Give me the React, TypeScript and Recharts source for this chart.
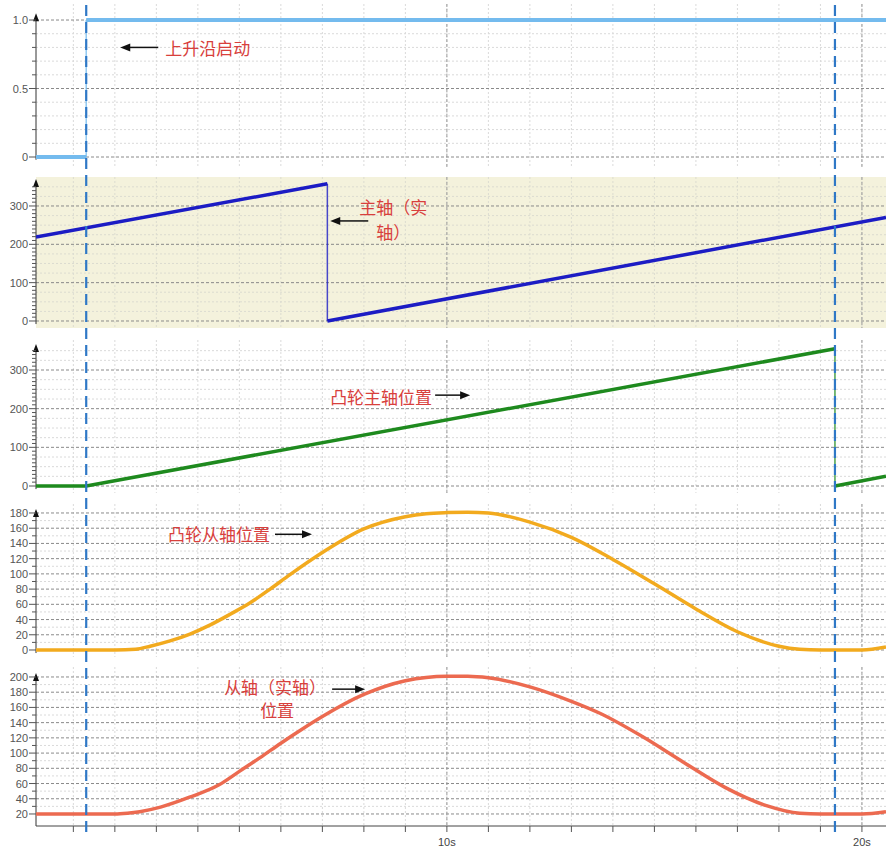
import React from 'react';
import { LineChart, Line, XAxis, YAxis, ReferenceLine, ReferenceDot, CartesianGrid } from 'recharts';

// time axis (seconds)
const T_MIN = 0.1;
const T_MAX = 20.58;
const SECONDS = [1, 2, 3, 4, 5, 6, 7, 8, 9, 10, 11, 12, 13, 14, 15, 16, 17, 18, 19, 20];
const X_LABELS = [10, 20];
const MARKERS = [1.31, 19.35];

// traces: times + values
const startT = [0.1, 1.31, 1.31, 20.58];
const startV = [0, 0, 1, 1];

const masterT = [0.1, 7.12, 7.12, 20.58];
const masterV = [219, 358, 0, 270];

const camMasterT = [0.1, 1.31, 19.35, 19.35, 20.58];
const camMasterV = [0, 0, 355, 0, 25];

const camSlaveT = [0.1, 1, 2, 2.5, 2.85, 3.33, 3.81, 4.3, 4.78, 5.26, 5.74, 6.22, 7, 8, 9, 9.5, 10, 10.5, 11, 12, 13, 14, 15, 16, 17, 18, 18.5, 19, 20, 20.58];
const camSlaveV = [0, 0, 0, 1, 5, 12, 21, 33, 47, 62, 80, 99, 128, 159, 175, 179, 180.5, 181, 180, 168, 148, 119, 87, 54, 24, 5, 1, 0, 0, 4];

const slaveT = [0.1, 1, 2, 2.3, 2.6, 3.1, 3.8, 4.5, 5, 5.5, 6, 6.5, 7, 8, 9, 10, 10.5, 11, 12, 13, 13.7, 14.7, 15.7, 16.7, 17.7, 18.5, 19, 20, 20.58];
const slaveV = [20, 20, 20, 21, 23, 29, 42, 58, 76, 94, 113, 131, 148, 177, 195, 201, 201, 199, 187, 168, 152, 122, 88, 55, 31, 21, 20, 20, 23];

// y ticks
const p1Major = [0, 0.5, 1];
const p1Minor = [0.1, 0.2, 0.3, 0.4, 0.6, 0.7, 0.8, 0.9];
const p23Major = [0, 100, 200, 300];
const p4Major = [0, 20, 40, 60, 80, 100, 120, 140, 160, 180];
const p5Major = [20, 40, 60, 80, 100, 120, 140, 160, 180, 200];

const range = (a: number, b: number, step: number) => {
  const out: number[] = [];
  for (let v = a; v <= b + 1e-9; v += step) out.push(Math.round(v * 1000) / 1000);
  return out;
};
const without = (arr: number[], ex: number[]) => arr.filter((v) => !ex.includes(v));

const RED = '#d8403c';
const CJK = "'Noto Sans CJK SC', sans-serif";
const AXIS_FONT = "'Liberation Sans', Arial, sans-serif";

type NoteLine = { text: string; dx: number; dy: number; anchor: 'start' | 'middle' | 'end' };
type Note = { t: number; v: number; dir: 'left' | 'right'; tail: number; lines: NoteLine[] };

type Panel = {
  top: number;
  height: number;
  domain: [number, number];
  t: number[];
  v: number[];
  color: string;
  width: number;
  curve: 'linear' | 'monotone';
  majors: number[];
  minorTicks: number[];
  minorGrid: number[];
  fmt: (n: number) => string;
  axisTop: number;
  axisBottom: number;
  bg?: string;
  notes: Note[];
  xAxis?: boolean;
};

const panels: Panel[] = [
  {
    top: 4, height: 163, domain: [-0.073, 1.117], t: startT, v: startV, color: '#74bbee', width: 4, curve: 'linear',
    majors: p1Major, minorTicks: p1Minor, minorGrid: p1Minor, fmt: (n) => (n === 0 ? '0' : n.toFixed(1)),
    axisTop: 1.02, axisBottom: -0.02,
    notes: [{ t: 2.13, v: 0.8, dir: 'left', tail: 38, lines: [{ text: '上升沿启动', dx: 45, dy: 0, anchor: 'start' }] }],
  },
  {
    top: 177, height: 151, domain: [-18.3, 375.6], t: masterT, v: masterV, color: '#1c1cc4', width: 3.5, curve: 'linear',
    majors: p23Major, minorTicks: without(range(0, 350, 10), p23Major), minorGrid: without(range(25, 350, 25), p23Major),
    fmt: (n) => String(n), axisTop: 360, axisBottom: -8, bg: '#f4f2dc',
    notes: [{ t: 7.19, v: 261, dir: 'left', tail: 38, lines: [
      { text: '主轴（实', dx: 63, dy: -14, anchor: 'middle' },
      { text: '轴）', dx: 63, dy: 11, anchor: 'middle' },
    ] }],
  },
  {
    top: 340, height: 153, domain: [-18.1, 377.6], t: camMasterT, v: camMasterV, color: '#1e8a1e', width: 3.5, curve: 'linear',
    majors: p23Major, minorTicks: without(range(0, 350, 10), p23Major), minorGrid: without(range(25, 350, 25), p23Major),
    fmt: (n) => String(n), axisTop: 357, axisBottom: -8,
    notes: [{ t: 10.56, v: 235, dir: 'right', tail: 35, lines: [{ text: '凸轮主轴位置', dx: -38, dy: 1, anchor: 'end' }] }],
  },
  {
    top: 504, height: 153, domain: [-9.2, 191.8], t: camSlaveT, v: camSlaveV, color: '#f2aa1e', width: 3.5, curve: 'monotone',
    majors: p4Major, minorTicks: range(10, 170, 20), minorGrid: range(10, 170, 20),
    fmt: (n) => String(n), axisTop: 180, axisBottom: -4,
    notes: [{ t: 6.75, v: 152, dir: 'right', tail: 37, lines: [{ text: '凸轮从轴位置', dx: -42, dy: -1, anchor: 'end' }] }],
  },
  {
    top: 667, height: 183, domain: [4.2, 213.1], t: slaveT, v: slaveV, color: '#ec6a50', width: 3.5, curve: 'monotone',
    majors: p5Major, minorTicks: range(30, 190, 20), minorGrid: range(30, 190, 20),
    fmt: (n) => String(n), axisTop: 200, axisBottom: 4.2, xAxis: true,
    notes: [{ t: 8.03, v: 184, dir: 'right', tail: 33, lines: [
      { text: '从轴（实轴）', dx: -90, dy: -3, anchor: 'middle' },
      { text: '位置', dx: -88, dy: 20, anchor: 'middle' },
    ] }],
  },
];

function buildSegments(t: number[], v: number[]) {
  const main: { t: number; v: number | null }[] = [];
  const drops: { t: number; v: number }[][] = [];
  t.forEach((ti, i) => {
    if (i > 0 && ti === t[i - 1]) {
      main.push({ t: ti, v: null });
      drops.push([{ t: t[i - 1], v: v[i - 1] }, { t: ti, v: v[i] }]);
    }
    main.push({ t: ti, v: v[i] });
  });
  return { main, drops };
}

function YTick(props: any) {
  const { x, y, payload, majors, fmt } = props;
  const major = majors.includes(payload.value);
  return (
    <g>
      <line x1={x - (major ? 7 : 4)} x2={x} y1={y} y2={y} stroke="#555" />
      {major && (
        <text x={x - 8} y={y} textAnchor="end" dominantBaseline="central" fontSize={11} fill="#555" fontFamily={AXIS_FONT}>
          {fmt(payload.value)}
        </text>
      )}
    </g>
  );
}

function XTick(props: any) {
  const { x, y, payload } = props;
  const lab = X_LABELS.includes(payload.value);
  return (
    <g>
      <line x1={x} x2={x} y1={y} y2={y + 6} stroke="#555" />
      {lab && (
        <text x={x} y={y + 20} textAnchor="middle" fontSize={11} fill="#444" fontFamily={AXIS_FONT}>
          {payload.value}s
        </text>
      )}
    </g>
  );
}

function NoteShape(props: any, note: Note) {
  const { cx, cy } = props;
  const s = note.dir === 'left' ? 1 : -1;
  return (
    <g>
      <line x1={cx + s * note.tail} x2={cx + s * 8} y1={cy} y2={cy} stroke="#111" strokeWidth={1.5} />
      <path d={`M${cx},${cy} L${cx + s * 10},${cy - 4} L${cx + s * 10},${cy + 4} Z`} fill="#111" />
      {note.lines.map((ln, i) => (
        <text key={i} x={cx + ln.dx} y={cy + ln.dy} textAnchor={ln.anchor} dominantBaseline="central"
          fontSize={17} fill={RED} fontFamily={CJK}>
          {ln.text}
        </text>
      ))}
    </g>
  );
}

function PanelChart({ p }: { p: Panel }) {
  const { main, drops } = buildSegments(p.t, p.v);
  return (
    <div style={{ position: 'absolute', left: 0, top: p.top }}>
      <LineChart width={886} height={p.height} margin={{ top: 0, right: 0, bottom: 0, left: 0 }} data={main}>
        <CartesianGrid fill={p.bg ?? 'none'} horizontalValues={p.minorGrid} verticalValues={SECONDS}
          stroke={p.bg ? '#dcdcd0' : '#dadada'} strokeDasharray="2 2" />
        <CartesianGrid horizontalValues={p.majors} vertical={false} stroke="#8a8a8a" strokeDasharray="3 2" />
        <CartesianGrid horizontal={false} verticalValues={X_LABELS} stroke="#9a9a9a" strokeDasharray="3 2" />
        <XAxis dataKey="t" type="number" domain={[T_MIN, T_MAX]} allowDataOverflow hide={!p.xAxis}
          ticks={SECONDS} interval={0} height={24} tickSize={0} tickMargin={0}
          axisLine={{ stroke: '#444' }} tick={(tp: any) => <XTick {...tp} />} />
        <YAxis type="number" domain={p.domain} allowDataOverflow width={36} ticks={[...p.majors, ...p.minorTicks]}
          interval={0} tickSize={0} tickMargin={0} axisLine={false}
          tick={(tp: any) => <YTick {...tp} majors={p.majors} fmt={p.fmt} />} />
        <ReferenceLine segment={[{ x: T_MIN, y: p.axisBottom }, { x: T_MIN, y: p.axisTop }]} stroke="#333" ifOverflow="visible" />
        <ReferenceDot x={T_MIN} y={p.axisTop} ifOverflow="visible"
          shape={(sp: any) => <path d={`M${sp.cx},${sp.cy - 4} L${sp.cx - 3},${sp.cy + 4} L${sp.cx + 3},${sp.cy + 4} Z`} fill="#111" />} />
        <Line dataKey="v" type={p.curve} stroke={p.color} strokeWidth={p.width} dot={false}
          connectNulls={false} isAnimationActive={false} />
        {drops.map((d, i) => (
          <Line key={i} data={d} dataKey="v" type="linear" stroke={p.color} strokeOpacity={0.8} strokeWidth={1.5}
            dot={false} isAnimationActive={false} />
        ))}
        {p.notes.map((n, i) => (
          <ReferenceDot key={i} x={n.t} y={n.v} ifOverflow="visible" shape={(sp: any) => NoteShape(sp, n)} />
        ))}
      </LineChart>
    </div>
  );
}

// full-height overlay for the two dashed cursor markers
const overlayData = [{ t: T_MIN, y: 0 }, { t: T_MAX, y: 1 }];

export default function App() {
  return (
    <div style={{ position: 'fixed', left: 0, top: 0, width: 886, height: 850, background: '#fff', overflow: 'hidden' }}>
      {panels.map((p, i) => (
        <PanelChart key={i} p={p} />
      ))}
      <div style={{ position: 'absolute', left: 0, top: 0, pointerEvents: 'none' }}>
        <LineChart width={886} height={850} margin={{ top: 4, right: 0, bottom: 18, left: 0 }} data={overlayData}>
          <XAxis type="number" dataKey="t" domain={[T_MIN, T_MAX]} allowDataOverflow hide />
          <YAxis type="number" domain={[0, 1]} width={36} tick={false} axisLine={false} tickLine={false} />
          <Line dataKey="y" stroke="none" dot={false} isAnimationActive={false} />
          {MARKERS.map((m) => (
            <ReferenceLine key={m} x={m} stroke="#2f78c6" strokeWidth={2.2} strokeDasharray="11 6" ifOverflow="visible" />
          ))}
        </LineChart>
      </div>
    </div>
  );
}
